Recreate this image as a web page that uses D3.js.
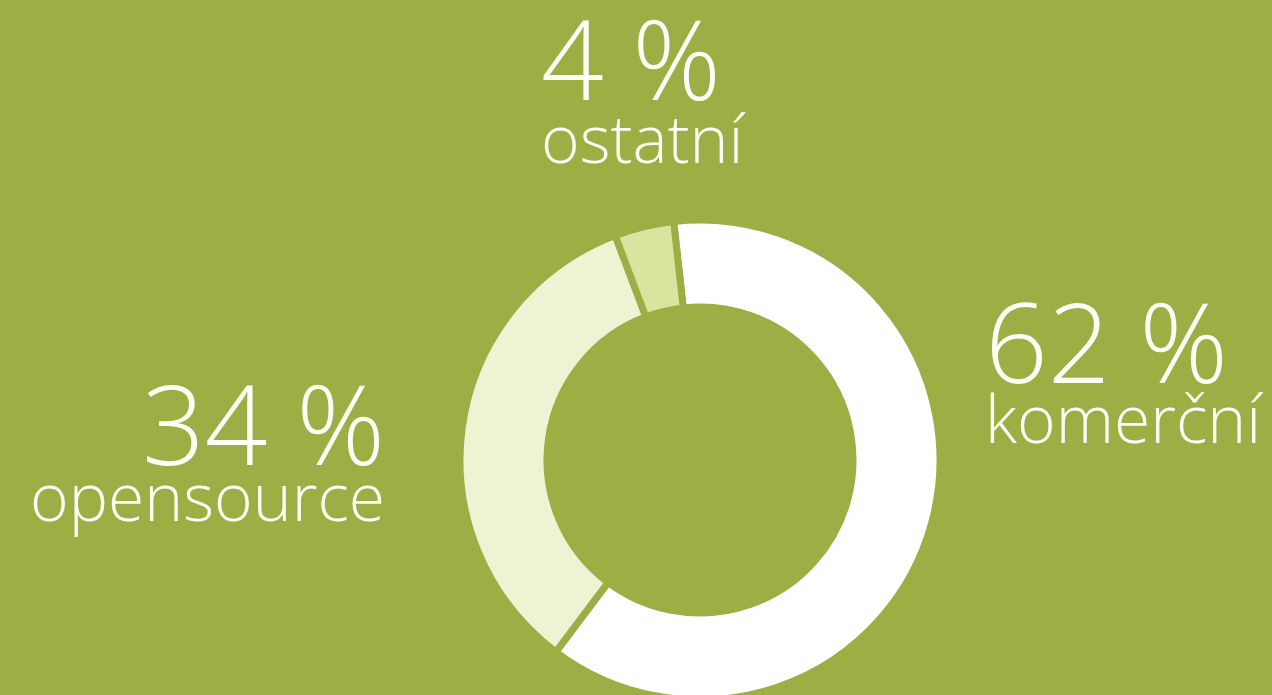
<!DOCTYPE html>
<html>

<head>
  <meta charset="utf-8">
  <style>
    body {
      margin: 0;
      background-color: #9dae44;
      overflow: hidden;
    }

    #chart text {
      fill: #fdfef5;
      font-family: "Open Sans", Lato, sans-serif;
      font-weight: 300;
    }

    #chart .pct {
      font-size: 110px;
    }

    #chart .name {
      font-size: 66px;
    }
  </style>
</head>

<body>
  <div id="chart">
    <svg width="1272" height="695"></svg>
  </div>

  <script src="https://d3js.org/d3.v7.min.js"></script>
  <script>
    var categories = ['komerční', 'opensource', 'ostatní'];
    var values = [62, 34, 4];
    var labels = ['62\u00a0%', '34\u00a0%', '4\u00a0%'];
    var colors = ['#ffffff', '#edf3d3', '#d8e59f'];

    var width = 1272,
      height = 695,
      cx = 700,
      cy = 460,
      outerR = 240,
      innerR = 153,
      bg = '#9dae44';

    // label placement: x, percent baseline, name baseline offset, anchor
    var labelPos = [
      [985, 383, 60, 'start'],
      [385, 465, 56, 'end'],
      [541, 100, 63, 'start']
    ];

    var svg = d3.select('#chart svg');
    var g = svg.append('g').attr('transform', 'translate(' + cx + ',' + cy + ')');

    var start = -6.3 * Math.PI / 180;
    var pie = d3.pie()
      .sort(null)
      .startAngle(start)
      .endAngle(2 * Math.PI + start)
      .value(d => d);

    var arc = d3.arc()
      .innerRadius(innerR)
      .outerRadius(outerR);

    g.selectAll('path')
      .data(pie(values))
      .join('path')
      .attr('d', arc)
      .attr('fill', (d, i) => colors[i])
      .attr('stroke', bg)
      .attr('stroke-width', 7);

    var lab = svg.selectAll('g.label')
      .data(categories)
      .join('g')
      .attr('class', 'label')
      .attr('transform', (d, i) => 'translate(' + labelPos[i][0] + ',' + labelPos[i][1] + ')')
      .attr('text-anchor', (d, i) => labelPos[i][3]);

    lab.append('text')
      .attr('class', 'pct')
      .text((d, i) => labels[i]);

    lab.append('text')
      .attr('class', 'name')
      .attr('y', (d, i) => labelPos[i][2])
      .text(d => d);
  </script>
</body>

</html>
